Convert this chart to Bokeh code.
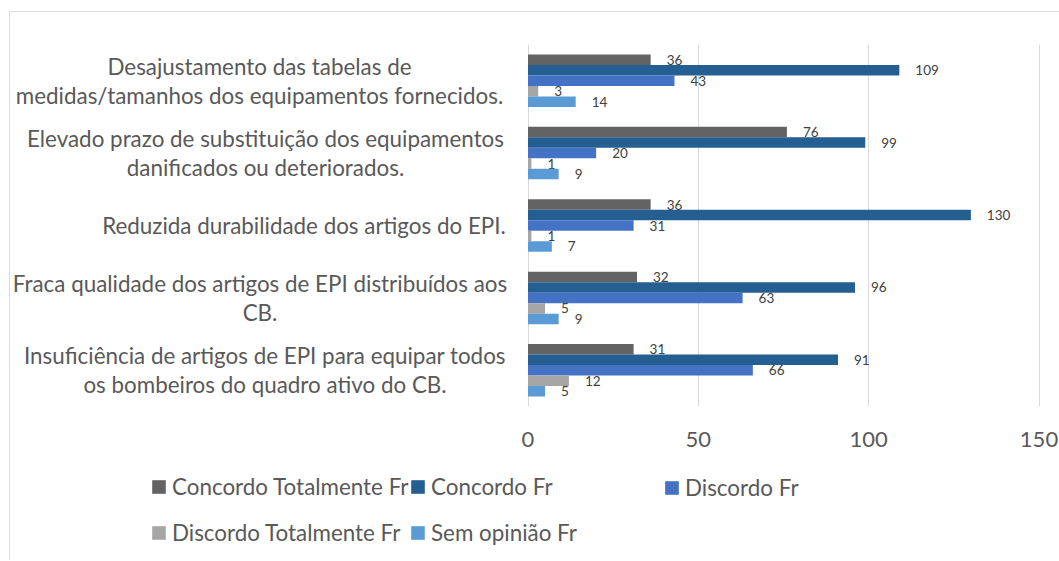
from bokeh.plotting import figure
from bokeh.models import (ColumnDataSource, FactorRange, Range1d, FixedTicker,
                          Legend, LegendItem)
from bokeh.layouts import column
from bokeh.transform import dodge
from bokeh.core.properties import value
from bokeh.embed import file_html
from bokeh.resources import INLINE

# ---------------- data ----------------
categories = [
    "Desajustamento das tabelas de\nmedidas/tamanhos dos equipamentos fornecidos.",
    "Elevado prazo de substituição dos equipamentos\ndanificados ou deteriorados.",
    "Reduzida durabilidade dos artigos do EPI.",
    "Fraca qualidade dos artigos de EPI distribuídos aos\nCB.",
    "Insuficiência de artigos de EPI para equipar todos\nos bombeiros do quadro ativo do CB.",
]
series_names = ["Concordo Totalmente Fr", "Concordo Fr", "Discordo Fr",
                "Discordo Totalmente Fr", "Sem opinião Fr"]
concordo_totalmente = [36, 76, 36, 32, 31]
concordo = [109, 99, 130, 96, 91]
discordo = [43, 20, 31, 63, 66]
discordo_totalmente = [3, 1, 1, 5, 12]
sem_opiniao = [14, 9, 7, 9, 5]
x_ticks = [0, 50, 100, 150]

# ---------------- styles ----------------
colors = ["#636363", "#255E91", "#4472C4", "#A5A5A5", "#5B9BD5"]
offsets = [0.29, 0.145, 0.0, -0.145, -0.29]
bar_h = 0.145
label_center_offsets = [-268.5, -262.5, -224, -268, -263]
FONT = "Lato"
W = 1059
H1, H2 = 460, 100
ZERO_PX, END_PX = 527.5, 1038.5          # pixel positions of 0 and 150
k = (END_PX - ZERO_PX) / 150.0
x_start = -ZERO_PX / k
x_end = 150 + (W - END_PX) / k

series_values = [concordo_totalmente, concordo, discordo, discordo_totalmente, sem_opiniao]
data = {"cat": categories}
for i, vals in enumerate(series_values):
    data[f"s{i}"] = vals
    data[f"t{i}"] = [str(v) for v in vals]
source = ColumnDataSource(data)

p = figure(width=W, height=H1, output_backend="svg", toolbar_location=None,
           y_range=FactorRange(factors=list(reversed(categories))),
           x_range=Range1d(x_start, x_end),
           min_border_left=0, min_border_right=0,
           min_border_top=44, min_border_bottom=H1 - 406)
p.outline_line_color = None
p.background_fill_color = None
p.border_fill_color = None

for i in range(5):
    p.hbar(y=dodge("cat", offsets[i], range=p.y_range), right=f"s{i}", left=0,
           height=bar_h, fill_color=colors[i], line_color=None, source=source)
    p.text(x=f"s{i}", y=dodge("cat", offsets[i], range=p.y_range), text=f"t{i}",
           x_offset=16, text_align="left", text_baseline="middle",
           text_font=value(FONT), text_font_size="13.5px", text_color="#404040",
           source=source)

# category labels
lab_src = ColumnDataSource(dict(cat=categories, x=[0] * 5, xo=label_center_offsets))
p.text(x="x", y="cat", text="cat", x_offset="xo", source=lab_src,
       text_align="center", text_baseline="middle",
       text_font=value(FONT), text_font_size="22.4px", text_color="#595959",
       text_line_height=1.08)

# grid / axes
p.ygrid.grid_line_color = None
p.xgrid.ticker = FixedTicker(ticks=x_ticks)
p.xgrid.grid_line_color = "#d9d9d9"
p.xgrid.grid_line_width = 1
p.yaxis.visible = False
p.xaxis.ticker = FixedTicker(ticks=x_ticks)
p.xaxis.axis_line_color = None
p.xaxis.major_tick_line_color = None
p.xaxis.minor_tick_line_color = None
p.xaxis.major_label_standoff = 19
p.xaxis.major_label_text_font = FONT
p.xaxis.major_label_text_font_size = "22px"
p.xaxis.major_label_text_color = "#595959"

# ---------------- legend figure ----------------
p2 = figure(width=W, height=H2, output_backend="svg", toolbar_location=None,
            x_range=Range1d(-2, -1), y_range=FactorRange(factors=list(reversed(categories))),
            min_border_left=0, min_border_right=0, min_border_top=0, min_border_bottom=0)
p2.outline_line_color = None
p2.background_fill_color = None
p2.border_fill_color = None
p2.axis.visible = False
p2.grid.visible = False
swatches = [p2.hbar(y="cat", right=f"s{i}", left=0, height=bar_h, fill_color=colors[i],
                    line_color=None, source=source) for i in range(5)]

def make_legend(idx, loc):
    lg = Legend(items=[LegendItem(label=series_names[i], renderers=[swatches[i]]) for i in idx],
                location=loc, orientation="vertical",
                border_line_color=None, background_fill_alpha=0,
                padding=0, margin=0, spacing=19,
                glyph_width=17, glyph_height=17, label_height=26, label_standoff=5,
                label_text_font=FONT, label_text_font_size="22.4px",
                label_text_color="#595959")
    p2.add_layout(lg, "center")

make_legend([0, 3], (150, 14))
make_legend([1, 4], (409, 14))
make_legend([2], (663, 59))

layout = column(p, p2, spacing=0)
layout.styles = {"box-shadow": "inset 9px 11px 0 0 white, inset 10px 12px 0 0 #d9d9d9"}

open("out.html", "w").write(file_html(layout, INLINE))
